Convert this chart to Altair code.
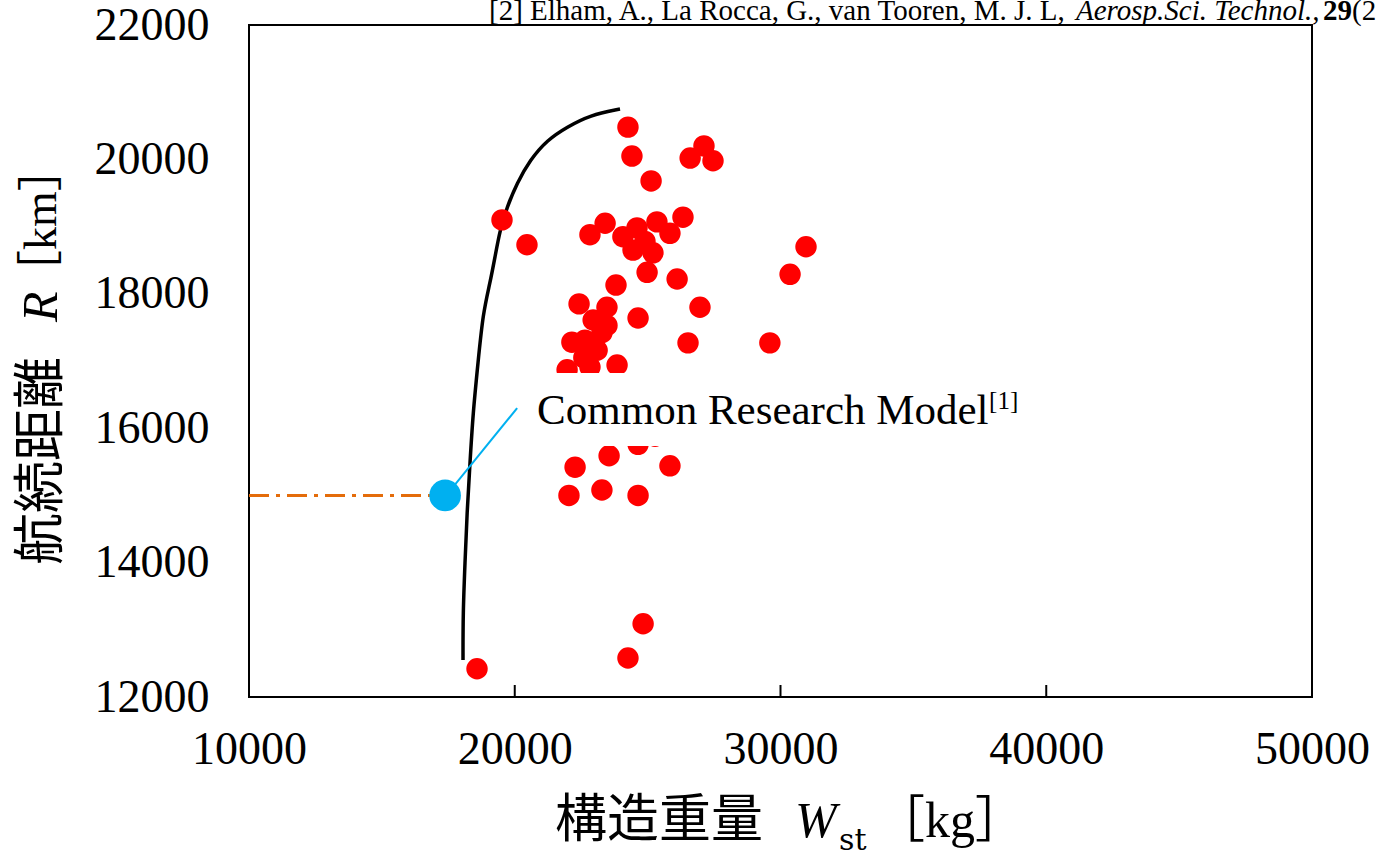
import altair as alt
import pandas as pd

# ---------------- data ----------------
red_x = [24260, 24410, 25130, 26600, 27120, 27460, 19520, 20460, 22830, 23400,
         24070, 24600, 25350, 26330, 25840, 24450, 25200, 24980, 24900, 26110,
         30960, 30360, 26970, 26520, 29600, 23810, 22420, 23470, 24640, 22950,
         23280, 22150, 23100, 23850, 21970, 22830, 22600, 23550, 24640, 22270,
         25840, 22040, 23280, 24640, 25280, 23000, 23800, 18580, 24260, 24830,
         22640, 23470]
red_y = [20480, 20050, 19680, 20020, 20200, 19980, 19100, 18730, 18880, 19050,
         18850, 18980, 19070, 19140, 18900, 18650, 18610, 18320, 18780, 18220,
         18700, 18290, 17800, 17270, 17270, 18130, 17850, 17800, 17640, 17610,
         17420, 17280, 17160, 16940, 16870, 16910, 17050, 15590, 15760, 15420,
         15440, 15000, 15080, 15000, 15880, 16500, 16200, 12420, 12580, 13090,
         17310, 17530]

crm_x = [17380]
crm_y = [15000]

curve_x = [18053, 18053, 18128, 18203, 18316, 18429, 18617, 18805, 19069, 19257,
           19445, 19709, 20085, 20574, 21214, 21966, 22832, 23961]
curve_y = [12551, 13250, 13994, 14738, 15482, 16226, 16970, 17714, 18160, 18547,
           18949, 19291, 19648, 19991, 20288, 20482, 20660, 20749]

ref_x = [10000, 16810]
ref_y = [15000, 15000]

leader_x = [17750, 20090]
leader_y = [15160, 16300]

x_ticks = [10000, 20000, 30000, 40000, 50000]
y_ticks = [12000, 14000, 16000, 18000, 20000, 22000]
inner_x_ticks = [20000, 30000, 40000]

label_text = "Common Research Model"
label_sup = "[1]"
label_pos = [20840, 16060]
label_box = [20390, 39200, 15735, 16821]

cite_parts = ["[2] Elham, A., La Rocca, G., van Tooren, M. J. L, ",
              "Aerosp.Sci. Technol.,", "29", "(2013) 100–113."]

# ---------------- layout ----------------
W, H = 1063, 672
SERIF = "Liberation Serif"
CJK = "Noto Sans CJK JP"
MIX = "Liberation Serif, Noto Sans CJK JP"

xs = alt.Scale(domain=[10000, 50000], nice=False, zero=False)
ys = alt.Scale(domain=[12000, 22000], nice=False, zero=False)

X = alt.X("x:Q", scale=xs, title=None,
          axis=alt.Axis(values=x_ticks, grid=False, domain=False, ticks=False,
                        labelFont=SERIF, labelFontSize=46, labelColor="black",
                        labelPadding=30, format="d", labelFlush=False,
                        labelOverlap=False))
Y = alt.Y("y:Q", scale=ys, title=None,
          axis=alt.Axis(values=y_ticks, grid=False, domain=False, ticks=False,
                        labelFont=SERIF, labelFontSize=46, labelColor="black",
                        labelPadding=40, format="d", labelFlush=False,
                        labelOverlap=False))

red_df = pd.DataFrame({"x": red_x, "y": red_y})
crm_df = pd.DataFrame({"x": crm_x, "y": crm_y})
curve_df = pd.DataFrame({"x": curve_x, "y": curve_y, "o": list(range(len(curve_x)))})
ref_df = pd.DataFrame({"x": ref_x, "y": ref_y})
lead_df = pd.DataFrame({"x": leader_x, "y": leader_y})
tick_df = pd.DataFrame({"x": inner_x_ticks})
box_df = pd.DataFrame({"x": [label_box[0]], "x2": [label_box[1]],
                       "y": [label_box[2]], "y2": [label_box[3]]})
lab_df = pd.DataFrame({"x": [label_pos[0]], "y": [label_pos[1]],
                       "t": [label_text], "s": [label_sup]})

ref_line = alt.Chart(ref_df).mark_line(color="#E46C0A", strokeWidth=3,
                                       strokeDash=[20, 7, 4, 7]).encode(x=X, y=Y)
curve = alt.Chart(curve_df).mark_line(color="black", strokeWidth=3.5,
                                      interpolate="basis").encode(x=X, y=Y, order="o:Q")
red = alt.Chart(red_df).mark_circle(color="#FF0000", opacity=1, size=460).encode(x=X, y=Y)
box = alt.Chart(box_df).mark_rect(color="white").encode(x=X, x2="x2", y=Y, y2="y2")
lab = alt.Chart(lab_df).mark_text(font=SERIF, fontSize=43, align="left",
                                  baseline="alphabetic", color="black").encode(x=X, y=Y, text="t:N")
sup = alt.Chart(lab_df).mark_text(font=SERIF, fontSize=25, align="left", dx=452, dy=-15,
                                  baseline="alphabetic", color="black").encode(x=X, y=Y, text="s:N")
leader = alt.Chart(lead_df).mark_line(color="#00B0F0", strokeWidth=2).encode(x=X, y=Y)
crm = alt.Chart(crm_df).mark_circle(color="#00B0F0", opacity=1, size=1000).encode(x=X, y=Y)
ticks = alt.Chart(tick_df).mark_rule(color="black", strokeWidth=2).encode(
    x=X, y=alt.value(H), y2=alt.value(H - 12))


def txt(s, x, y, **kw):
    return alt.Chart(pd.DataFrame({"t": [s]})).mark_text(align="left", color="black", **kw).encode(
        x=alt.value(x), y=alt.value(y), text="t:N")


cite1 = txt(cite_parts[0], 240, -5, font=SERIF, fontSize=29, baseline="alphabetic")
cite2 = txt(cite_parts[1], 827, -5, font=SERIF, fontSize=29, fontStyle="italic", baseline="alphabetic")
cite3 = txt(cite_parts[2], 1074, -5, font=SERIF, fontSize=29, fontWeight="bold", baseline="alphabetic")
cite4 = txt(cite_parts[3], 1103, -5, font=SERIF, fontSize=29, baseline="alphabetic")

xt1 = txt("構造重量", 306, 812, font=CJK, fontSize=52, baseline="alphabetic")
xt2 = txt("W", 546, 812, font=SERIF, fontSize=50, fontStyle="italic", baseline="alphabetic")
xt3 = txt("st", 590, 825, font="DejaVu Serif", fontSize=30, baseline="alphabetic")
xt4 = txt("［kg］", 626, 812, font=MIX, fontSize=50, baseline="alphabetic")

yt1 = txt("航続距離", -207, 540, font=CJK, fontSize=52, angle=270, baseline="middle")
yt2 = txt("R", -207, 297, font=SERIF, fontSize=50, fontStyle="italic", angle=270, baseline="middle")
yt3 = txt("［km］", -207, 271, font=MIX, fontSize=46, angle=270, baseline="middle")

chart = alt.layer(
    ref_line, curve, red, box, lab, sup, leader, crm, ticks,
    cite1, cite2, cite3, cite4, xt1, xt2, xt3, xt4, yt1, yt2, yt3
).properties(
    width=W, height=H,
    autosize=alt.AutoSizeParams(type="none"),
    padding={"left": 249, "top": 25, "right": 64, "bottom": 155},
    background="white",
).configure_view(stroke="black", strokeWidth=2)

chart.save("out.html", embed_options={"renderer": "svg", "actions": False})
